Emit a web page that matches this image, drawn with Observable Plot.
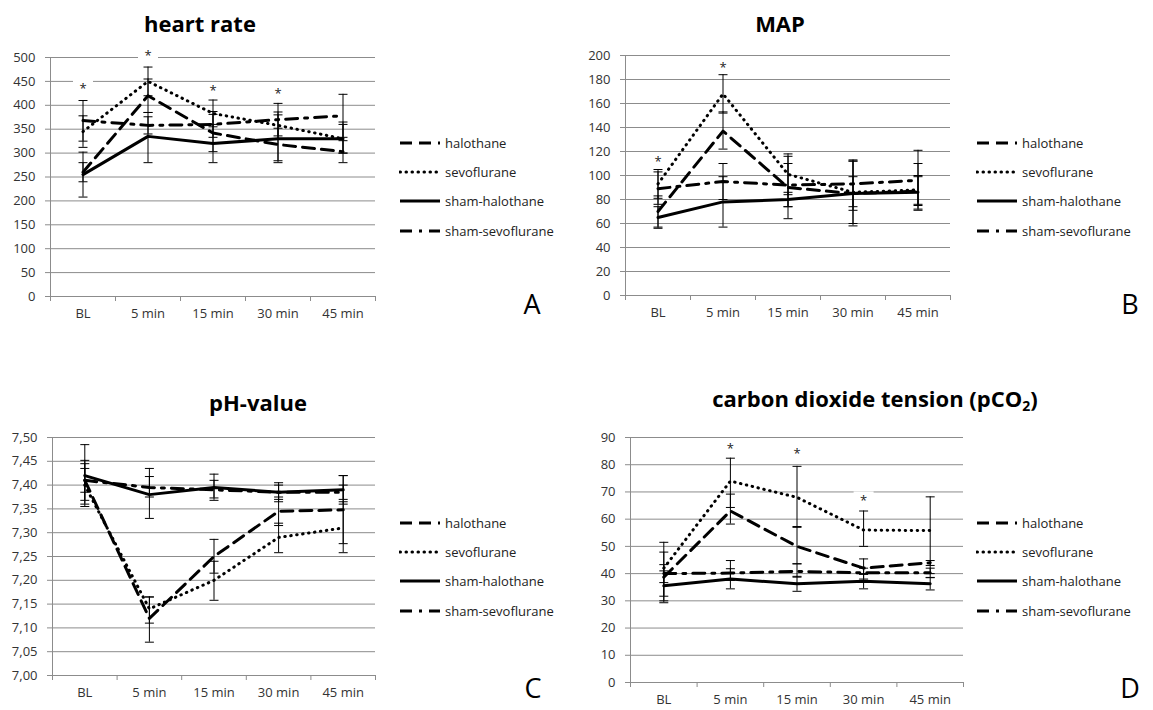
<!DOCTYPE html>
<html>
<head>
<meta charset="utf-8">
<script src="https://cdn.jsdelivr.net/npm/d3@7"></script>
<script src="https://cdn.jsdelivr.net/npm/@observablehq/plot@0.6"></script>
<style>
  body { margin: 0; background: #fff; font-family: "Open Sans", sans-serif; }
  #page { position: relative; width: 1153px; height: 710px; overflow: hidden; background: #fff; }
  .panel { position: absolute; }
  .title { position: absolute; font-weight: bold; font-size: 22px; color: #000; white-space: nowrap; transform: translate(-50%, -50%); line-height: 1; }
  .title sub { font-size: 14px; vertical-align: -4px; }
  .legend { position: absolute; font-size: 13px; color: #222; }
  .legend .row { position: absolute; display: flex; align-items: center; white-space: nowrap; transform: translateY(-50%); }
  .legend svg { display: block; margin-right: 4px; }
  .letter { position: absolute; font-size: 27px; color: #000; transform: translate(-50%, -50%); line-height: 1; }
</style>
</head>
<body>
<div id="page"></div>
<script>
// ---------- categories ----------
const timepoints = ["BL", "5 min", "15 min", "30 min", "45 min"];
const groups = ["halothane", "sevoflurane", "sham-halothane", "sham-sevoflurane"];

// ---------- A: heart rate (rows = groups) ----------
const hrTicks = [0, 50, 100, 150, 200, 250, 300, 350, 400, 450, 500];
const hrMean = [
  [260, 420, 342, 318, 303],
  [345, 450, 383, 358, 330],
  [255, 335, 320, 330, 330],
  [368, 358, 360, 370, 378]
];
const hrLow = [
  [240, 385, 303, 284, 280],
  [312, 420, 355, 330, 300],
  [208, 280, 280, 280, 300],
  [325, 340, 333, 336, 333]
];
const hrHigh = [
  [280, 455, 381, 352, 326],
  [378, 480, 411, 386, 365],
  [302, 385, 360, 380, 360],
  [410, 376, 387, 404, 423]
];
const hrStarTimes = ["BL", "5 min", "15 min", "30 min"];
const hrStarValues = [441, 510, 436, 430];

// ---------- B: MAP ----------
const mapTicks = [0, 20, 40, 60, 80, 100, 120, 140, 160, 180, 200];
const mapMean = [
  [70, 137, 90, 85, 87],
  [93, 168, 101, 86, 88],
  [65, 78, 80, 85, 86],
  [89, 95, 92, 93, 96]
];
const mapLow = [
  [57, 122, 64, 58, 75],
  [81, 152, 84, 60, 76],
  [56, 57, 74, 71, 72],
  [76, 80, 74, 74, 71]
];
const mapHigh = [
  [83, 153, 116, 112, 99],
  [105, 184, 118, 112, 110],
  [74, 99, 86, 99, 100],
  [103, 110, 110, 113, 121]
];
const mapStarTimes = ["BL", "5 min"];
const mapStarValues = [114, 192];

// ---------- C: pH-value ----------
const phTicks = [7.00, 7.05, 7.10, 7.15, 7.20, 7.25, 7.30, 7.35, 7.40, 7.45, 7.50];
const phMean = [
  [7.41, 7.12, 7.25, 7.345, 7.348],
  [7.40, 7.14, 7.20, 7.29, 7.31],
  [7.42, 7.38, 7.395, 7.385, 7.39],
  [7.41, 7.395, 7.39, 7.385, 7.385]
];
const phLow = [
  [7.368, 7.07, 7.215, 7.315, 7.277],
  [7.355, 7.11, 7.158, 7.258, 7.258],
  [7.36, 7.33, 7.368, 7.365, 7.36],
  [7.385, 7.375, 7.373, 7.37, 7.37]
];
const phHigh = [
  [7.452, 7.165, 7.286, 7.375, 7.42],
  [7.445, 7.165, 7.24, 7.32, 7.365],
  [7.485, 7.435, 7.423, 7.405, 7.42],
  [7.435, 7.418, 7.41, 7.40, 7.40]
];
const phStarTimes = [];
const phStarValues = [];

// ---------- D: pCO2 ----------
const co2Ticks = [0, 10, 20, 30, 40, 50, 60, 70, 80, 90];
const co2Mean = [
  [38.7, 63, 50, 42, 44],
  [42, 74, 68, 56, 55.8],
  [35.5, 38, 36.3, 37.2, 36.3],
  [40, 40.2, 40.8, 40.3, 40.3]
];
const co2Low = [
  [29.3, 58.2, 43.6, 39.7, 40],
  [31.7, 64.3, 57.3, 50, 43],
  [30, 34.4, 33.5, 34.4, 34],
  [36.7, 37.5, 38.7, 38, 38.5]
];
const co2High = [
  [47.9, 69.2, 57, 45.4, 44.8],
  [51.5, 82.4, 79.4, 63, 68.2],
  [41, 41.8, 39, 40, 38.6],
  [43.3, 44.8, 43.6, 42, 42]
];
const co2StarTimes = ["5 min", "15 min", "30 min"];
const co2StarValues = [87, 85, 68];

// ---------- styles ----------
const lineStyles = [
  {strokeDasharray: "12,7"},
  {strokeDasharray: "0.5,5.5", strokeLinecap: "round"},
  {},
  {strokeDasharray: "12,7,3,7"}
];
const gridColor = "#8c8c8c";
const labelColor = "#333";

const capSymbol = {draw(ctx, size) { const r = Math.sqrt(size / Math.PI); ctx.moveTo(-r, 0); ctx.lineTo(r, 0); }};
const boxSymbol = {draw(ctx, size) { const r = Math.sqrt(size / Math.PI); ctx.rect(-r, -r * 0.6, 2 * r, 1.2 * r); }};

const page = document.getElementById("page");

function makePanel(p) {
  const n = timepoints.length;
  const rows = groups.flatMap((g, gi) => timepoints.map((t, ti) => ({
    g, x: ti + 0.5, y: p.mean[gi][ti], lo: p.low[gi][ti], hi: p.high[gi][ti]
  })));
  const stars = p.starTimes.map((t, k) => ({x: timepoints.indexOf(t) + 0.5, y: p.starValues[k]}));
  const f = p.frame;
  const m = {left: 50, right: 8, top: 12, bottom: 36};
  const chart = Plot.plot({
    width: (f.right - f.left) + m.left + m.right,
    height: (f.bottom - f.top) + m.top + m.bottom,
    marginLeft: m.left, marginRight: m.right, marginTop: m.top, marginBottom: m.bottom,
    style: {fontFamily: "'Open Sans', sans-serif", fontSize: "13px", color: labelColor, background: "transparent", overflow: "visible"},
    x: {type: "linear", domain: [0, n], label: null},
    y: {domain: [p.ticks[0], p.ticks[p.ticks.length - 1]], label: null},
    marks: [
      Plot.gridY(p.ticks, {stroke: gridColor, strokeOpacity: 1, strokeWidth: 1}),
      Plot.ruleX([0], {stroke: gridColor, strokeWidth: 1}),
      Plot.ruleY([p.ticks[0]], {stroke: gridColor, strokeWidth: 1}),
      Plot.axisY(p.ticks, {tickSize: 5, tickPadding: 10, stroke: gridColor, fill: labelColor, tickFormat: p.format, label: null}),
      Plot.axisX(d3.range(n + 1), {tickSize: 5, stroke: gridColor, tickFormat: () => "", label: null}),
      Plot.axisX(d3.range(n).map(i => i + 0.5), {tickSize: 0, tickPadding: 12, fill: labelColor, tickFormat: v => timepoints[Math.floor(v)], label: null}),
      Plot.dot(stars, {x: "x", y: "y", symbol: boxSymbol, r: 10, fill: "white", stroke: "none"}),
      ...groups.map((g, gi) => Plot.line(rows.filter(d => d.g === g), {
        x: "x", y: "y", stroke: "black", strokeWidth: 3, strokeLinejoin: "round", ...lineStyles[gi]
      })),
      Plot.ruleX(rows, {x: "x", y1: "lo", y2: "hi", stroke: "black", strokeWidth: 1}),
      Plot.dot(rows, {x: "x", y: "lo", symbol: capSymbol, r: 4.5, stroke: "black", fill: "none", strokeWidth: 1}),
      Plot.dot(rows, {x: "x", y: "hi", symbol: capSymbol, r: 4.5, stroke: "black", fill: "none", strokeWidth: 1}),
      Plot.text(stars, {x: "x", y: "y", text: () => "*", fontSize: 13, dy: 3, fill: "#222"})
    ]
  });
  const div = document.createElement("div");
  div.className = "panel";
  div.style.left = (f.left - m.left) + "px";
  div.style.top = (f.top - m.top) + "px";
  div.appendChild(chart);
  page.appendChild(div);

  // title
  const title = document.createElement("div");
  title.className = "title";
  title.innerHTML = p.title;
  title.style.left = p.titlePos[0] + "px";
  title.style.top = p.titlePos[1] + "px";
  page.appendChild(title);

  // legend
  const leg = document.createElement("div");
  leg.className = "legend";
  groups.forEach((g, gi) => {
    const row = document.createElement("div");
    row.className = "row";
    row.style.left = p.legendPos[0] + "px";
    row.style.top = (p.legendPos[1] + gi * 29.2) + "px";
    const s = lineStyles[gi];
    row.innerHTML = `<svg width="42" height="8"><line x1="1" y1="4" x2="41" y2="4" stroke="black" stroke-width="3" ${s.strokeDasharray ? `stroke-dasharray="${s.strokeDasharray}"` : ""} ${s.strokeLinecap ? `stroke-linecap="${s.strokeLinecap}"` : ""}/></svg><span>${g}</span>`;
    leg.appendChild(row);
  });
  page.appendChild(leg);

  // panel letter
  const letter = document.createElement("div");
  letter.className = "letter";
  letter.textContent = p.letter;
  letter.style.left = p.letterPos[0] + "px";
  letter.style.top = p.letterPos[1] + "px";
  page.appendChild(letter);
}

const intFmt = d3.format("d");
const phFmt = v => d3.format(".2f")(v).replace(".", ",");

makePanel({title: "heart rate", titlePos: [200, 23], letter: "A", letterPos: [532, 303], legendPos: [399, 143],
  frame: {left: 50, right: 375, top: 57, bottom: 296},
  ticks: hrTicks, format: intFmt, mean: hrMean, low: hrLow, high: hrHigh, starTimes: hrStarTimes, starValues: hrStarValues});
makePanel({title: "MAP", titlePos: [780, 23], letter: "B", letterPos: [1130, 303], legendPos: [976, 143],
  frame: {left: 625, right: 950, top: 55, bottom: 295},
  ticks: mapTicks, format: intFmt, mean: mapMean, low: mapLow, high: mapHigh, starTimes: mapStarTimes, starValues: mapStarValues});
makePanel({title: "pH-value", titlePos: [258, 402], letter: "C", letterPos: [533, 687], legendPos: [399, 523],
  frame: {left: 52, right: 375, top: 437, bottom: 675},
  ticks: phTicks, format: phFmt, mean: phMean, low: phLow, high: phHigh, starTimes: phStarTimes, starValues: phStarValues});
makePanel({title: "carbon dioxide tension (pCO<sub>2</sub>)", titlePos: [875, 400], letter: "D", letterPos: [1130, 687], legendPos: [976, 523],
  frame: {left: 630, right: 963, top: 437, bottom: 682},
  ticks: co2Ticks, format: intFmt, mean: co2Mean, low: co2Low, high: co2High, starTimes: co2StarTimes, starValues: co2StarValues});
</script>
</body>
</html>
